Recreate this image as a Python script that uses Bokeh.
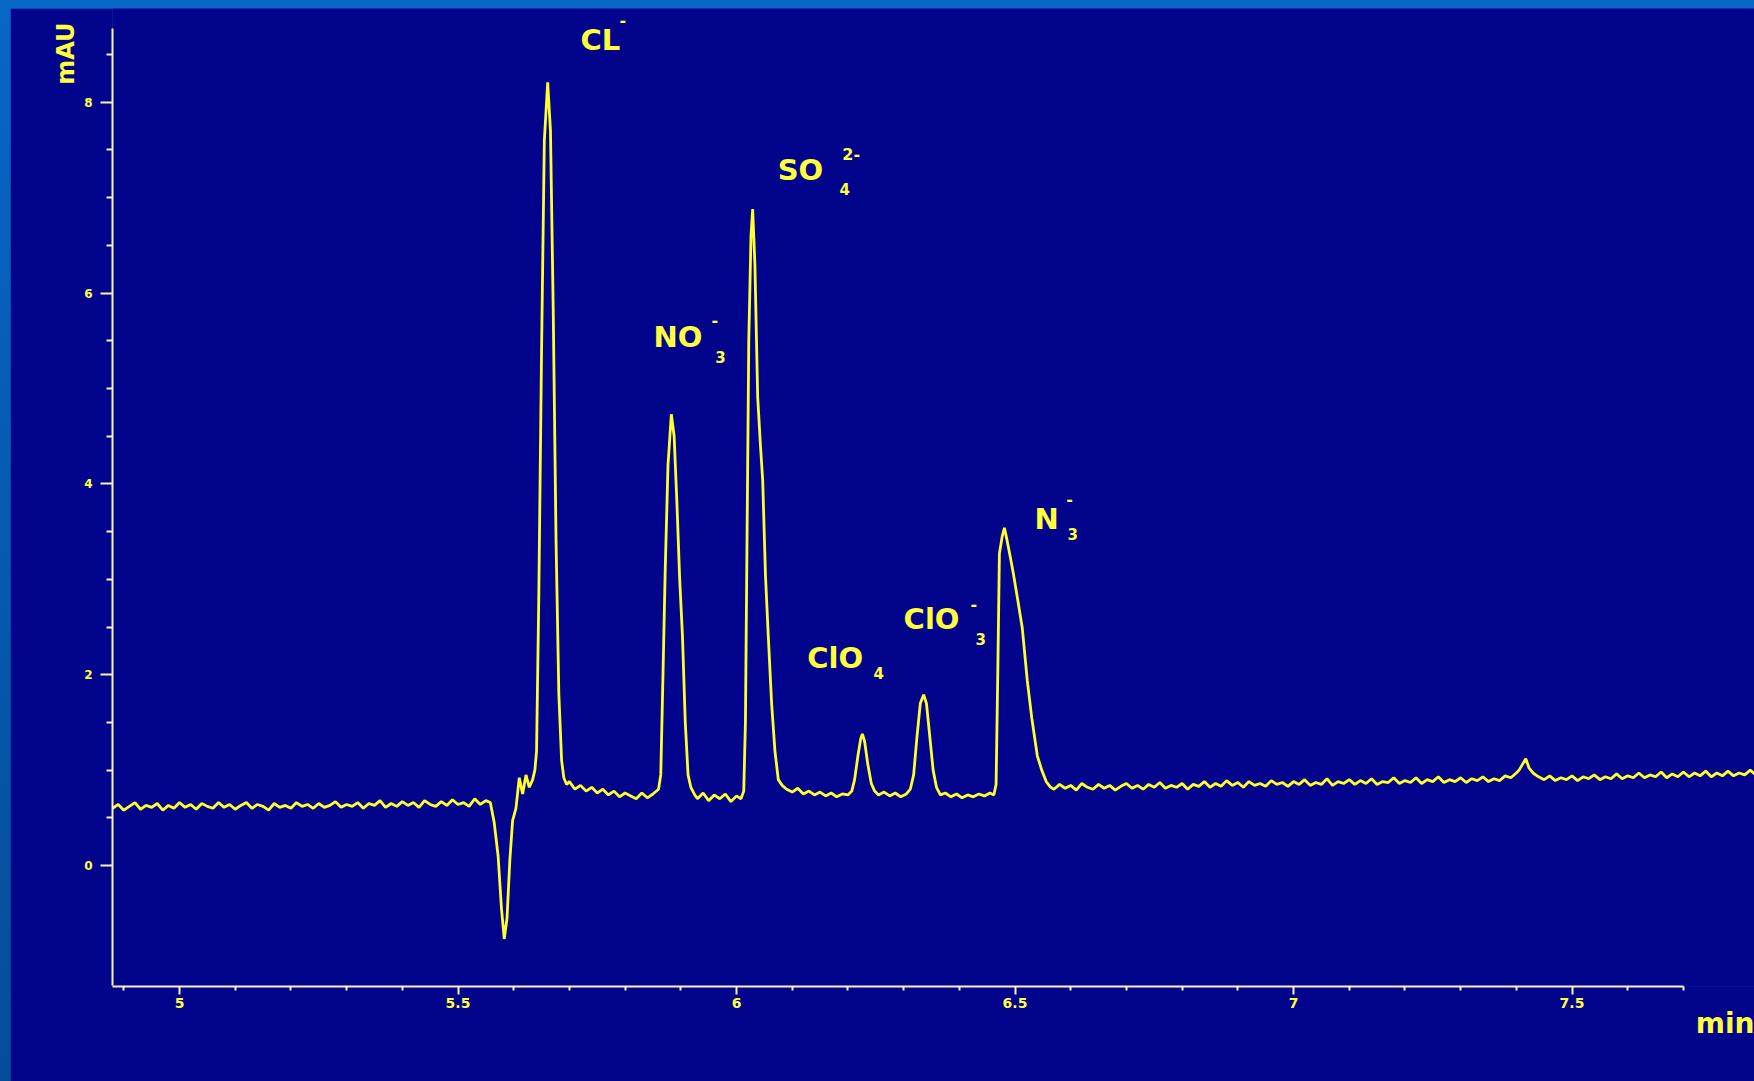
from bokeh.plotting import figure
from bokeh.layouts import column
from bokeh.models import ColumnDataSource, FixedTicker, Title, Range1d
from bokeh.core.properties import value
from bokeh.embed import file_html
from bokeh.resources import INLINE

# ---------------- data ----------------
# chromatogram trace: (retention time in min, absorbance in mAU)
chromatogram = [
    (4.88, 0.60), (4.89, 0.64), (4.90, 0.58), (4.91, 0.62), (4.92, 0.66), (4.93, 0.59),
    (4.94, 0.63), (4.95, 0.61), (4.96, 0.65), (4.97, 0.58), (4.98, 0.63), (4.99, 0.60),
    (5.00, 0.66), (5.01, 0.61), (5.02, 0.64), (5.03, 0.59), (5.04, 0.65), (5.05, 0.62),
    (5.06, 0.60), (5.07, 0.66), (5.08, 0.61), (5.09, 0.64), (5.10, 0.59), (5.11, 0.63),
    (5.12, 0.66), (5.13, 0.60), (5.14, 0.64), (5.15, 0.62), (5.16, 0.58), (5.17, 0.65),
    (5.18, 0.61), (5.19, 0.63), (5.20, 0.60), (5.21, 0.66), (5.22, 0.62), (5.23, 0.64),
    (5.24, 0.60), (5.25, 0.65), (5.26, 0.61), (5.27, 0.63), (5.28, 0.67), (5.29, 0.61),
    (5.30, 0.64), (5.31, 0.62), (5.32, 0.66), (5.33, 0.60), (5.34, 0.65), (5.35, 0.63),
    (5.36, 0.68), (5.37, 0.61), (5.38, 0.65), (5.39, 0.62), (5.40, 0.67), (5.41, 0.63),
    (5.42, 0.66), (5.43, 0.61), (5.44, 0.68), (5.45, 0.64), (5.46, 0.62), (5.47, 0.67),
    (5.48, 0.63), (5.49, 0.69), (5.50, 0.64), (5.51, 0.66), (5.52, 0.62), (5.53, 0.70),
    (5.54, 0.64), (5.55, 0.68),
    # system dip
    (5.558, 0.66), (5.565, 0.45), (5.572, 0.10), (5.578, -0.45), (5.583, -0.77),
    (5.588, -0.55), (5.593, 0.05), (5.598, 0.47), (5.604, 0.60), (5.610, 0.92),
    (5.616, 0.75), (5.622, 0.95), (5.628, 0.82), (5.634, 0.90), (5.638, 1.00),
    # Cl-
    (5.641, 1.20), (5.645, 2.80), (5.650, 5.40), (5.655, 7.60), (5.661, 8.21),
    (5.666, 7.70), (5.671, 5.80), (5.676, 3.40), (5.681, 1.80), (5.686, 1.10),
    (5.690, 0.92), (5.695, 0.85), (5.700, 0.88),
    (5.71, 0.80), (5.72, 0.84), (5.73, 0.78), (5.74, 0.82), (5.75, 0.76), (5.76, 0.80),
    (5.77, 0.74), (5.78, 0.78), (5.79, 0.72), (5.80, 0.76), (5.81, 0.73), (5.82, 0.70),
    (5.83, 0.76), (5.84, 0.71), (5.85, 0.75), (5.86, 0.80),
    # NO3-
    (5.864, 0.95), (5.868, 2.00), (5.872, 3.10), (5.877, 4.20), (5.883, 4.73),
    (5.888, 4.50), (5.893, 3.80), (5.898, 3.00), (5.903, 2.40), (5.908, 1.50),
    (5.913, 0.95), (5.918, 0.82), (5.925, 0.74),
    (5.93, 0.70), (5.94, 0.76), (5.95, 0.68), (5.96, 0.74), (5.97, 0.70), (5.98, 0.75),
    (5.99, 0.67), (6.00, 0.73), (6.008, 0.70), (6.013, 0.78),
    # SO4 2-
    (6.016, 1.50), (6.019, 3.50), (6.022, 5.50), (6.026, 6.60), (6.029, 6.88),
    (6.033, 6.30), (6.038, 4.91), (6.043, 4.40), (6.047, 4.04), (6.052, 3.04),
    (6.057, 2.41), (6.063, 1.70), (6.069, 1.20), (6.075, 0.90), (6.082, 0.84),
    (6.09, 0.80), (6.10, 0.77), (6.11, 0.81), (6.12, 0.75), (6.13, 0.78), (6.14, 0.74),
    (6.15, 0.77), (6.16, 0.73), (6.17, 0.76), (6.18, 0.72), (6.19, 0.75), (6.20, 0.74),
    (6.207, 0.78),
    # ClO4-
    (6.212, 0.90), (6.218, 1.15), (6.223, 1.33), (6.226, 1.38), (6.230, 1.30),
    (6.236, 1.05), (6.242, 0.86), (6.248, 0.78),
    (6.255, 0.74), (6.265, 0.77), (6.275, 0.73), (6.285, 0.76), (6.295, 0.72),
    (6.305, 0.75), (6.312, 0.80),
    # ClO3-
    (6.318, 0.95), (6.324, 1.35), (6.330, 1.70), (6.336, 1.79), (6.341, 1.70),
    (6.347, 1.35), (6.353, 1.00), (6.359, 0.82), (6.366, 0.74),
    (6.375, 0.76), (6.385, 0.72), (6.395, 0.75), (6.405, 0.71), (6.415, 0.74),
    (6.425, 0.72), (6.435, 0.75), (6.445, 0.73), (6.455, 0.76), (6.462, 0.74),
    # N3-
    (6.466, 0.85), (6.469, 2.00), (6.472, 3.27), (6.477, 3.45), (6.481, 3.54),
    (6.486, 3.40), (6.491, 3.25), (6.497, 3.06), (6.505, 2.78), (6.513, 2.49),
    (6.522, 1.94), (6.530, 1.55), (6.540, 1.15), (6.548, 1.00), (6.556, 0.88),
    (6.564, 0.82),
    (6.57, 0.80), (6.58, 0.85), (6.59, 0.81), (6.60, 0.84), (6.61, 0.79), (6.62, 0.86),
    (6.63, 0.82), (6.64, 0.80), (6.65, 0.85), (6.66, 0.81), (6.67, 0.84), (6.68, 0.79),
    (6.69, 0.83), (6.70, 0.86), (6.71, 0.81), (6.72, 0.84), (6.73, 0.80), (6.74, 0.85),
    (6.75, 0.82), (6.76, 0.87), (6.77, 0.81), (6.78, 0.84), (6.79, 0.82), (6.80, 0.86),
    (6.81, 0.80), (6.82, 0.85), (6.83, 0.83), (6.84, 0.88), (6.85, 0.82), (6.86, 0.86),
    (6.87, 0.83), (6.88, 0.89), (6.89, 0.84), (6.90, 0.87), (6.91, 0.82), (6.92, 0.88),
    (6.93, 0.84), (6.94, 0.86), (6.95, 0.83), (6.96, 0.89), (6.97, 0.85), (6.98, 0.87),
    (6.99, 0.83), (7.00, 0.88), (7.01, 0.85), (7.02, 0.90), (7.03, 0.84), (7.04, 0.87),
    (7.05, 0.85), (7.06, 0.91), (7.07, 0.84), (7.08, 0.88), (7.09, 0.86), (7.10, 0.90),
    (7.11, 0.85), (7.12, 0.89), (7.13, 0.86), (7.14, 0.91), (7.15, 0.85), (7.16, 0.88),
    (7.17, 0.87), (7.18, 0.92), (7.19, 0.86), (7.20, 0.89), (7.21, 0.87), (7.22, 0.92),
    (7.23, 0.86), (7.24, 0.90), (7.25, 0.88), (7.26, 0.93), (7.27, 0.87), (7.28, 0.90),
    (7.29, 0.88), (7.30, 0.92), (7.31, 0.87), (7.32, 0.91), (7.33, 0.89), (7.34, 0.93),
    (7.35, 0.88), (7.36, 0.91), (7.37, 0.89), (7.38, 0.94), (7.39, 0.92), (7.40, 0.97),
    (7.405, 1.00), (7.41, 1.05), (7.417, 1.12), (7.423, 1.02), (7.43, 0.97),
    (7.44, 0.93), (7.45, 0.90), (7.46, 0.94), (7.47, 0.89), (7.48, 0.92), (7.49, 0.90),
    (7.50, 0.94), (7.51, 0.89), (7.52, 0.93), (7.53, 0.91), (7.54, 0.95), (7.55, 0.90),
    (7.56, 0.93), (7.57, 0.91), (7.58, 0.96), (7.59, 0.91), (7.60, 0.94), (7.61, 0.92),
    (7.62, 0.97), (7.63, 0.92), (7.64, 0.95), (7.65, 0.93), (7.66, 0.98), (7.67, 0.92),
    (7.68, 0.96), (7.69, 0.93), (7.70, 0.98), (7.71, 0.93), (7.72, 0.97), (7.73, 0.94),
    (7.74, 0.99), (7.75, 0.93), (7.76, 0.97), (7.77, 0.94), (7.78, 0.99), (7.79, 0.94),
    (7.80, 0.97), (7.81, 0.95), (7.82, 1.00), (7.83, 0.95),
]

# peak labels: main text, subscript, superscript (anchor positions in data units)
label_text = ["CL", "NO", "SO", "ClO", "ClO", "N"]
label_t = [5.720, 5.851, 6.074, 6.127, 6.300, 6.535]
label_v = [8.65, 5.535, 7.285, 2.180, 2.579, 3.637]

sub_text = ["3", "4", "4", "3", "3"]
sub_t = [5.962, 6.185, 6.246, 6.429, 6.594]
sub_v = [5.325, 7.096, 2.023, 2.379, 3.480]

sup_text = ["-", "-", "2-", "-", "-"]
sup_t = [5.790, 5.955, 6.190, 6.420, 6.592]
sup_v = [8.86, 5.713, 7.463, 2.746, 3.847]

x_major_ticks = [5, 5.5, 6, 6.5, 7, 7.5]
x_tick_labels = ["5", "5.5", "6", "6.5", "7", "7.5"]
x_minor_ticks = [4.9, 5.1, 5.2, 5.3, 5.4, 5.6, 5.7, 5.8, 5.9, 6.1, 6.2, 6.3, 6.4,
                 6.6, 6.7, 6.8, 6.9, 7.1, 7.2, 7.3, 7.4, 7.6, 7.7]
y_major_ticks = [0, 2, 4, 6, 8]
y_minor_ticks = [0.5, 1, 1.5, 2.5, 3, 3.5, 4.5, 5, 5.5, 6.5, 7, 7.5, 8.5]

# ---------------- styling ----------------
NAVY = "#03048C"
TRACE = "#FFFF2E"
AXIS = "#F4F4C4"
TEXT = "#FFFF3C"
FONT = "DejaVu Sans"

time_min = [pt[0] for pt in chromatogram]
signal_mau = [pt[1] for pt in chromatogram]

p = figure(width=1744, height=1073, output_backend="svg", toolbar_location=None,
           x_range=Range1d(4.8797, 7.8276), y_range=Range1d(-1.268, 8.983),
           min_border_left=102, min_border_right=0, min_border_top=0,
           min_border_bottom=95,
           background_fill_color=NAVY, border_fill_color=NAVY,
           outline_line_color=None)
p.margin = (8, 0, 0, 10)
p.grid.visible = False

trace_src = ColumnDataSource(dict(t=time_min, v=signal_mau))
p.line("t", "v", source=trace_src, line_color=TRACE, line_width=2.8)

# axes
xa = p.xaxis[0]
xa.ticker = FixedTicker(ticks=x_major_ticks, minor_ticks=x_minor_ticks)
xa.major_label_overrides = {k: s for k, s in zip(x_major_ticks, x_tick_labels)}
xa.bounds = (4.88, 7.70)
ya = p.yaxis[0]
ya.ticker = FixedTicker(ticks=y_major_ticks, minor_ticks=y_minor_ticks)
ya.bounds = (-1.26, 8.77)
for ax in (xa, ya):
    ax.axis_line_color = AXIS
    ax.axis_line_width = 2
    ax.major_tick_line_color = AXIS
    ax.minor_tick_line_color = AXIS
    ax.major_tick_line_width = 2
    ax.minor_tick_line_width = 2
    ax.major_tick_in = 0
    ax.minor_tick_in = 0
    ax.major_label_text_color = TEXT
    ax.major_label_text_font = FONT
    ax.major_label_text_font_style = "bold"
xa.major_label_text_font_size = "14px"
ya.major_label_text_font_size = "12px"
xa.major_tick_out = 8
xa.minor_tick_out = 4
xa.major_label_standoff = 3
ya.major_tick_out = 12
ya.minor_tick_out = 6
ya.major_label_standoff = 8

# axis titles
p.add_layout(Title(text="mAU", align="right", text_color=TEXT, text_font=FONT,
                   text_font_style="bold", text_font_size="24px", offset=14,
                   standoff=4), "left")
p.add_layout(Title(text="min", align="right", text_color=TEXT, text_font=FONT,
                   text_font_style="bold", text_font_size="28px", standoff=-12),
             "below")

# peak labels
p.text(x=label_t, y=label_v, text=label_text, text_color=TEXT,
       text_font=value(FONT), text_font_style="bold", text_font_size="29px",
       text_align="left", text_baseline="middle")
p.text(x=sub_t, y=sub_v, text=sub_text, text_color=TEXT,
       text_font=value(FONT), text_font_style="bold", text_font_size="15px",
       text_align="left", text_baseline="middle")
p.text(x=sup_t, y=sup_v, text=sup_text, text_color=TEXT,
       text_font=value(FONT), text_font_style="bold", text_font_size="16px",
       text_align="left", text_baseline="middle")

page = column(p, width=1754, height=1081,
              styles={"background": "linear-gradient(#0866C6, #044E98)"})

open("out.html", "w").write(file_html(page, INLINE))
